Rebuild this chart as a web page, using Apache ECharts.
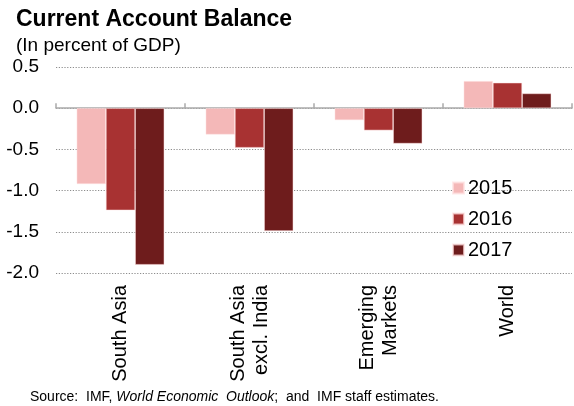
<!DOCTYPE html>
<html><head><meta charset="utf-8">
<script src="https://cdn.jsdelivr.net/npm/echarts@6/dist/echarts.min.js"></script>
<style>html,body{margin:0;padding:0;background:#fff}#c{width:574px;height:406px}</style>
</head><body><div id="c"></div>
<script>
const categories = ['South Asia', 'South Asia\nexcl. India', 'Emerging\nMarkets', 'World'];
const years = ['2015', '2016', '2017'];
const v2015 = [-0.92, -0.32, -0.145, 0.33];
const v2016 = [-1.24, -0.48, -0.27, 0.31];
const v2017 = [-1.90, -1.49, -0.43, 0.18];
const yTicks = {min: -2.0, max: 0.5, interval: 0.5};
const colors = ['#f4b8b8', '#a83232', '#6e1c1c'];
const F = 'Liberation Sans, Arial, sans-serif';

const chart = echarts.init(document.getElementById('c'), null, {renderer: 'canvas'});
const data = [v2015, v2016, v2017];
chart.setOption({
  animation: false,
  textStyle: {fontFamily: F},
  grid: {left: 56, right: 2, top: 67, bottom: 133},
  title: [
    {text: 'Current Account Balance', left: 11, top: 3,
     textStyle: {fontFamily: F, fontSize: 23, fontWeight: 'bold', color: '#000'}},
    {text: '(In percent of GDP)', left: 11, top: 31,
     textStyle: {fontFamily: F, fontSize: 19, fontWeight: 'normal', color: '#000'}}
  ],
  legend: {
    data: years, orient: 'vertical', left: 447, top: 173,
    itemWidth: 11, itemHeight: 11, itemGap: 11, icon: 'rect',
    textStyle: {fontFamily: F, fontSize: 20, color: '#000', padding: [0, 0, 0, -1]}
  },
  xAxis: [
    {type: 'category', data: categories, position: 'bottom',
     axisLine: {onZero: true, lineStyle: {color: '#aaaaaa', width: 1.5}},
     axisTick: {show: true, inside: true, length: 5, lineStyle: {color: '#aaaaaa', width: 1.5}},
     axisLabel: {show: false}, splitLine: {show: false}},
    {type: 'category', data: categories, position: 'bottom',
     axisLine: {show: false}, axisTick: {show: false}, splitLine: {show: false},
     axisLabel: {rotate: 90, margin: 12, fontFamily: F, fontSize: 20, color: '#000', lineHeight: 23, align: 'right'}}
  ],
  yAxis: {
    type: 'value', min: yTicks.min, max: yTicks.max, interval: yTicks.interval,
    axisLine: {show: false}, axisTick: {show: false},
    axisLabel: {margin: 17, fontFamily: F, fontSize: 19, color: '#000',
      formatter: v => v.toFixed(1)},
    splitLine: {show: true, lineStyle: {color: '#8c8c8c', type: [1.2, 1.6], width: 1.2}}
  },
  series: years.map((y, i) => ({
    name: y, type: 'bar', xAxisIndex: 0, data: data[i],
    barGap: '0%', barCategoryGap: '32%',
    itemStyle: {color: colors[i], borderColor: 'rgba(255,225,225,0.7)', borderWidth: 0.7}
  })),
  graphic: [{
    type: 'text', left: 30, top: 390,
    style: {
      text: '{n|Source:  IMF, }{i|World Economic  Outlook}{n|;  and  IMF staff estimates.}',
      rich: {
        n: {fontFamily: F, fontSize: 14, fill: '#000'},
        i: {fontFamily: F, fontSize: 14, fontStyle: 'italic', fill: '#000'}
      }
    }
  }]
});
</script></body></html>
